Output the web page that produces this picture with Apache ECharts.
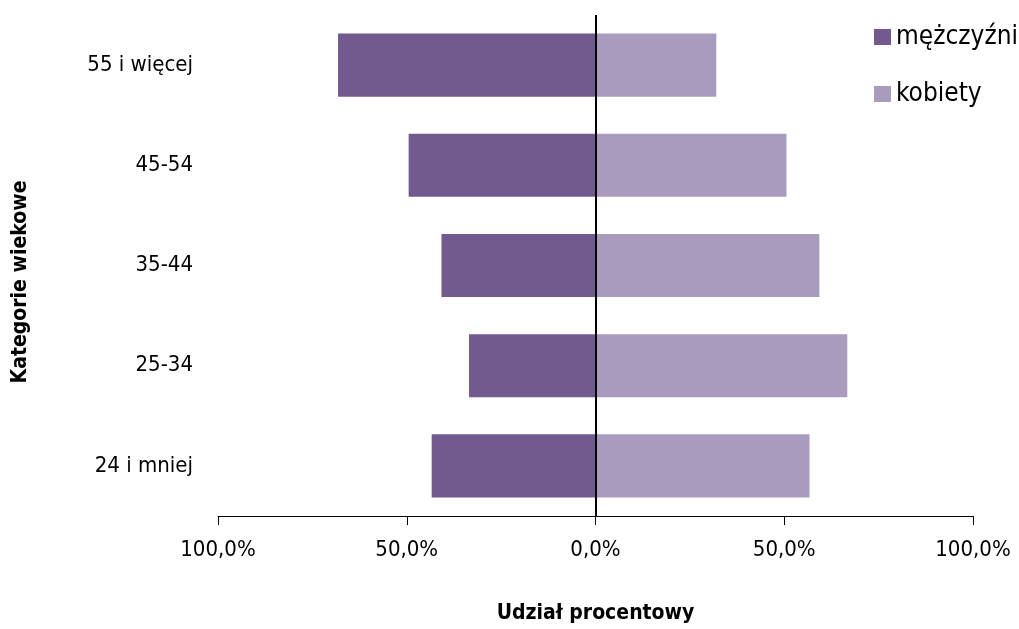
<!DOCTYPE html>
<html><head><meta charset="utf-8">
<script src="https://cdn.jsdelivr.net/npm/echarts@6/dist/echarts.min.js"></script>
<style>html,body{margin:0;padding:0;background:#fff}#c{width:1019px;height:629px}</style>
</head><body><div id="c"></div>
<script>
const categories = ['24 i mniej', '25-34', '35-44', '45-54', '55 i więcej'];
const men = [43.4, 33.5, 40.8, 49.5, 68.2];
const women = [56.7, 66.7, 59.3, 50.6, 32.0];
const seriesNames = ['mężczyźni', 'kobiety'];
const FONT = '"DejaVu Sans Condensed", "Liberation Sans Narrow", sans-serif';

const chart = echarts.init(document.getElementById('c'));
chart.setOption({
  animation: false,
  textStyle: { fontFamily: FONT },
  legend: {
    orient: 'vertical', left: 869, top: 19, padding: 5,
    itemWidth: 17, itemHeight: 16, itemGap: 31,
    icon: 'rect',
    textStyle: { fontFamily: FONT, fontSize: 26, color: '#000', padding: [0, 0, 0, 0] },
    data: seriesNames
  },
  grid: { left: 218, right: 46, top: 15, bottom: 113, containLabel: false, outerBoundsMode: 'none' },
  xAxis: {
    type: 'value', min: -100, max: 100, interval: 50,
    axisLine: { show: true, onZero: false, lineStyle: { color: '#000', width: 1 } },
    axisTick: { show: true, length: 9, inside: false, lineStyle: { color: '#000' } },
    splitLine: { show: false },
    axisLabel: { color: '#000', fontSize: 22, fontFamily: FONT, margin: 23,
      formatter: v => Math.abs(v).toFixed(1).replace('.', ',') + '%' },
    name: 'Udział procentowy', nameLocation: 'middle', nameGap: 87,
    nameTextStyle: { fontFamily: FONT, fontSize: 21, fontWeight: 'bold', color: '#000' }
  },
  yAxis: {
    type: 'category', data: categories,
    axisLine: { show: false }, axisTick: { show: false },
    axisLabel: { color: '#000', fontSize: 22, fontFamily: FONT, margin: 25 },
    name: 'Kategorie wiekowe', nameLocation: 'middle', nameGap: 187, nameRotate: 90,
    nameTextStyle: { fontFamily: FONT, fontSize: 21, fontWeight: 'bold', color: '#000', padding: [0, 33, 0, 0] }
  },
  series: [
    { name: seriesNames[0], type: 'bar', stack: 's', barWidth: '63%',
      itemStyle: { color: '#725a8f' },
      data: men.map(v => -v),
      markLine: { silent: true, symbol: 'none', label: { show: false },
        lineStyle: { color: '#000', width: 2, type: 'solid' },
        data: [{ xAxis: 0 }] } },
    { name: seriesNames[1], type: 'bar', stack: 's', barWidth: '63%',
      itemStyle: { color: '#a99bbe' },
      data: women }
  ]
});
</script></body></html>
